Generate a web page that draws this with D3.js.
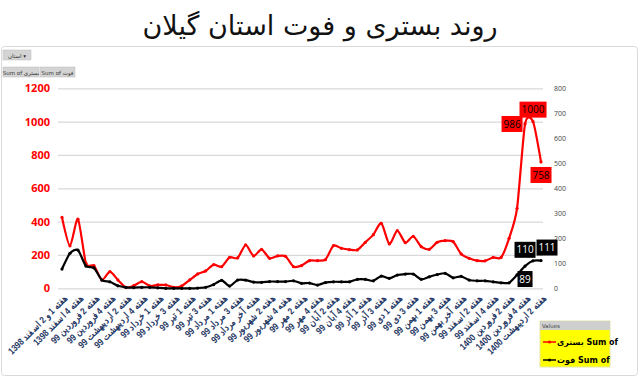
<!DOCTYPE html>
<html>
<head>
<meta charset="utf-8">
<script src="https://cdn.jsdelivr.net/npm/d3@7"></script>
<style>
  body { margin: 0; background: #fff; }
  svg { display: block; font-family: "DejaVu Sans", "Open Sans", sans-serif; }
</style>
</head>
<body>
<div id="chart"></div>
<script>
// Weekly categories (Persian calendar)
const weeks = [
  "هفته 1 و 2 اسفند 1398", "هفته 3 اسفند 1398", "هفته 4 اسفند 1398",
  "هفته 1 فروردین 99", "هفته 2 فروردین 99", "هفته 3 فروردین 99", "هفته 4 فروردین 99",
  "هفته 1 اردیبهشت 99", "هفته 2 اردیبهشت 99", "هفته 3 اردیبهشت 99", "هفته 4 اردیبهشت 99", "هفته آخر اردیبهشت 99",
  "هفته 1 خرداد 99", "هفته 2 خرداد 99", "هفته 3 خرداد 99", "هفته 4 خرداد 99",
  "هفته 1 تیر 99", "هفته 2 تیر 99", "هفته 3 تیر 99", "هفته 4 تیر 99",
  "هفته 1 مرداد 99", "هفته 2 مرداد 99", "هفته 3 مرداد 99", "هفته 4 مرداد 99", "هفته آخر مرداد 99",
  "هفته 1 شهریور 99", "هفته 2 شهریور 99", "هفته 3 شهریور 99", "هفته 4 شهریور 99",
  "هفته 1 مهر 99", "هفته 2 مهر 99", "هفته 3 مهر 99", "هفته 4 مهر 99",
  "هفته 1 آبان 99", "هفته 2 آبان 99", "هفته 3 آبان 99", "هفته 4 آبان 99", "هفته آخر آبان 99",
  "هفته 1 آذر 99", "هفته 2 آذر 99", "هفته 3 آذر 99", "هفته 4 آذر 99",
  "هفته 1 دی 99", "هفته 2 دی 99", "هفته 3 دی 99", "هفته 4 دی 99",
  "هفته 1 بهمن 99", "هفته 2 بهمن 99", "هفته 3 بهمن 99", "هفته 4 بهمن 99", "هفته آخر بهمن 99",
  "هفته 1 اسفند 99", "هفته 2 اسفند 99", "هفته 3 اسفند 99", "هفته 4 اسفند 99",
  "هفته 1 فروردین 1400", "هفته 2 فروردین 1400", "هفته 3 فروردین 1400", "هفته 4 فروردین 1400",
  "هفته 1 اردیبهشت 1400", "هفته 2 اردیبهشت 1400"
];

// بستری (hospitalised), left axis
const hospital = [425, 255, 415, 150, 136, 50, 100, 50, 5, 16, 40, 14, 20, 20, 6, 14,
  50, 86, 104, 142, 130, 186, 182, 260, 194, 234, 180, 194, 192, 130, 136, 166, 166, 172,
  256, 240, 232, 230, 276, 322, 390, 266, 346, 274, 312, 250, 234, 276, 286, 280, 206,
  180, 166, 165, 185, 185, 300, 480, 986, 1000, 758];

// فوت (deaths), right axis
const deaths = [77, 140, 153, 89, 82, 33, 26, 10, 4, 3, 4, 4, 2, 0, 0, 0, 0, 1, 4, 15,
  32, 9, 33, 33, 25, 24, 27, 27, 27, 30, 20, 21, 13, 23, 26, 26, 26, 36, 36, 30, 49, 40,
  53, 57, 57, 36, 46, 55, 60, 42, 48, 33, 30, 30, 26, 22, 22, 54, 89, 110, 111];

const leftTicks = [0, 200, 400, 600, 800, 1000, 1200];
const rightTicks = [0, 100, 200, 300, 400, 500, 600, 700, 800];
const labelled = [58, 59, 60];

const W = 640, H = 377;
const red = "#ff0000", navy = "#1f3864";

const svg = d3.select("#chart").append("svg").attr("width", W).attr("height", H);

svg.append("text").attr("x", 320).attr("y", 35)
  .attr("text-anchor", "middle").attr("font-size", 27)
  .attr("fill", "#111").text("روند بستری و فوت استان گیلان");

// chart frame
svg.append("rect").attr("x", 1.5).attr("y", 46.5).attr("width", 636).attr("height", 329)
  .attr("rx", 3).attr("fill", "#fff").attr("stroke", "#d9d9d9");

// pivot field buttons
const buttons = [
  { x: 3, y: 50, w: 28, t: "استان ▾" },
  { x: 3, y: 67, w: 36, t: "Sum of بستری" },
  { x: 40, y: 67, w: 35, t: "Sum of فوت" }
];
const bg = svg.append("g").selectAll("g").data(buttons).enter().append("g");
bg.append("rect").attr("x", d => d.x).attr("y", d => d.y).attr("width", d => d.w).attr("height", 10)
  .attr("fill", "#d4d4d4").attr("stroke", "#bdbdbd").attr("stroke-width", 0.5);
bg.append("text").attr("x", d => d.x + d.w / 2).attr("y", d => d.y + 7.5)
  .attr("text-anchor", "middle").attr("font-size", 5.5).attr("fill", "#333").text(d => d.t);

const x0 = 58, x1 = 545, yTop = 88.3, yBot = 288.3;
const x = d3.scaleBand().domain(d3.range(weeks.length)).range([x0, x1]);
const cx = i => x(i) + x.bandwidth() / 2;
const yL = d3.scaleLinear().domain([0, 1200]).range([yBot, yTop]);
const yR = d3.scaleLinear().domain([0, 800]).range([yBot, yTop]);

// gridlines + left axis
const gl = svg.append("g").attr("transform", `translate(${x0},0)`)
  .call(d3.axisLeft(yL).tickValues(leftTicks).tickFormat(d3.format("d"))
    .tickSize(-(x1 - 2 - x0)).tickPadding(8));
gl.select(".domain").remove();
gl.selectAll(".tick line").attr("stroke", "#d9d9d9").attr("stroke-width", 1.2);
gl.selectAll(".tick text").attr("fill", red).attr("font-weight", "bold")
  .attr("font-size", 11).attr("font-family", "Open Sans, sans-serif");

// right axis
const gr = svg.append("g").attr("transform", `translate(${x1 + 7},0)`)
  .call(d3.axisRight(yR).tickValues(rightTicks).tickSize(0).tickPadding(2));
gr.select(".domain").remove();
gr.selectAll(".tick text").attr("fill", "#444").attr("font-size", 7)
  .attr("font-family", "Open Sans, sans-serif");

// x axis labels (every other week)
const gx = svg.append("g").attr("transform", `translate(0,${yBot})`)
  .call(d3.axisBottom(x).tickValues(d3.range(0, weeks.length, 2)).tickSize(0).tickFormat(i => weeks[i]));
gx.select(".domain").remove();
gx.selectAll(".tick text")
  .attr("text-anchor", "end").attr("font-size", 9.5).attr("font-weight", "bold").attr("fill", navy)
  .attr("transform", "translate(4,8) rotate(-45) scale(0.84,1)").attr("dy", "0.35em").attr("y", 0).attr("x", 0);

const line = (sc) => d3.line().x((d, i) => cx(i)).y(d => sc(d)).curve(d3.curveCardinal.tension(0.3));

function series(vals, sc, col) {
  const g = svg.append("g");
  g.append("path").datum(vals).attr("d", line(sc)).attr("fill", "none")
    .attr("stroke", col).attr("stroke-width", 2.2);
  g.selectAll("circle").data(vals).enter().append("circle")
    .attr("cx", (d, i) => cx(i)).attr("cy", d => sc(d)).attr("r", 1.6).attr("fill", col);
}
series(hospital, yL, red);
series(deaths, yR, "#000");

// data labels
const redPos = { 58: [-13, 0], 59: [0, -12], 60: [0, 13] };
const blackPos = { 58: [0, 13], 59: [-8, -11], 60: [6, -13] };
function dataLabels(vals, sc, pos, fill, txt) {
  const g = svg.append("g").selectAll("g").data(labelled).enter().append("g")
    .attr("transform", i => `translate(${cx(i) + pos[i][0]},${sc(vals[i]) + pos[i][1]})`);
  g.append("rect").attr("x", i => -(String(vals[i]).length * 3 + 1.5)).attr("y", -8)
    .attr("width", i => String(vals[i]).length * 6 + 3).attr("height", 16).attr("fill", fill);
  g.append("text").attr("text-anchor", "middle").attr("dy", "0.36em").attr("font-size", 10)
    .attr("font-family", "Open Sans, sans-serif").attr("fill", txt).text(i => vals[i]);
}
dataLabels(hospital, yL, redPos, red, "#000");
dataLabels(deaths, yR, blackPos, "#000", "#fff");

// legend
const lg = svg.append("g").attr("transform", "translate(540,321)");
lg.append("rect").attr("width", 70).attr("height", 46).attr("fill", "#ffff00").attr("stroke", "#e6e6a0");
lg.append("rect").attr("width", 70).attr("height", 9).attr("fill", "#cfcfcf");
lg.append("text").attr("x", 2).attr("y", 6.5).attr("font-size", 5.5).attr("fill", "#444").text("Values");
const items = [{ c: red, t: "بستری Sum of", y: 21 }, { c: "#000", t: "فوت Sum of", y: 39 }];
const li = lg.selectAll("g.it").data(items).enter().append("g").attr("transform", d => `translate(0,${d.y})`);
li.append("line").attr("x1", 3).attr("x2", 16).attr("stroke", d => d.c).attr("stroke-width", 1.5);
li.append("circle").attr("cx", 9.5).attr("r", 1.5).attr("fill", d => d.c);
li.append("text").attr("x", 17).attr("dy", "0.35em").attr("font-size", 8).attr("font-weight", "bold")
  .attr("fill", "#000").text(d => d.t);
</script>
</body>
</html>
